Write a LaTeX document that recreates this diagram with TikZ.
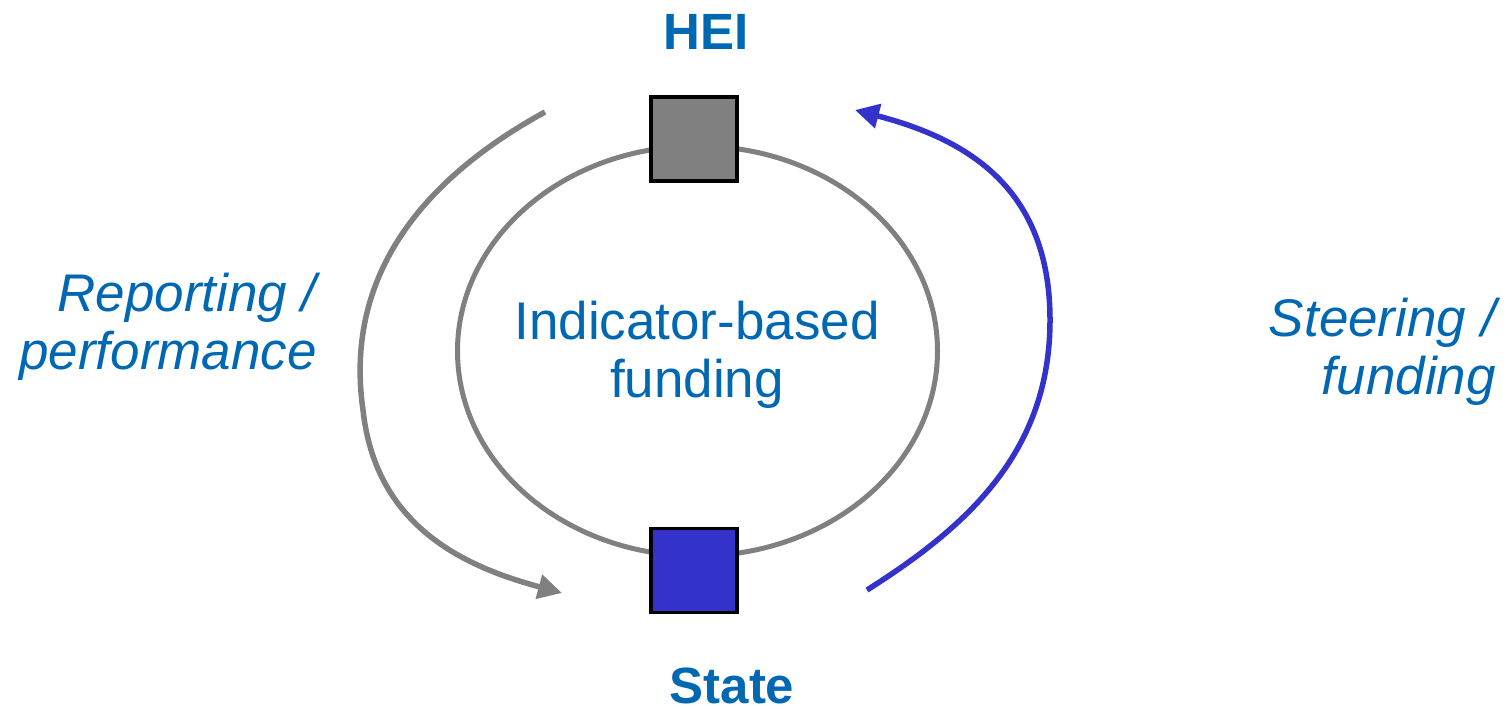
\documentclass[tikz,border=0pt]{standalone}
\usepackage{fontspec}
\setmainfont{Liberation Sans}
\usetikzlibrary{arrows.meta}
\definecolor{txtblue}{RGB}{0,104,178}
\definecolor{arrblue}{RGB}{51,51,204}
\definecolor{midgray}{RGB}{128,128,128}
\tikzset{
  lbl/.style={text=txtblue, inner sep=0pt, font=\fontsize{53}{58}\selectfont},
  ttl/.style={text=txtblue, inner sep=0pt, font=\fontsize{51}{58}\selectfont\bfseries},
  sq/.style={draw=black, line width=3.5pt, minimum width=86pt, minimum height=84pt, inner sep=0pt},
  flow/.style={line width=5.5pt, -{Triangle[length=24pt,width=24pt]}},
}
\begin{document}
\begin{tikzpicture}[x=1pt,y=-1pt]
\useasboundingbox (0,0) rectangle (1507,709);
% ring
\draw[midgray, line width=5pt] (697.5,351) ellipse [x radius=240, y radius=205];
% squares
\node[sq, fill=midgray] (hei) at (694,139) {};
\node[sq, fill=arrblue] (state) at (694,570.5) {};
% titles
\node[ttl, anchor=base] (heit) at (706,50) {HEI};
\node[ttl, anchor=base] (statet) at (732,703) {State};
% centre
\node[lbl, align=center] (ctr) at (697,355) {Indicator-based\\funding};
% side labels
\node[lbl, align=right, anchor=east, font=\fontsize{53}{58}\selectfont\itshape] (rep) at (317,327) {Reporting /\\performance};
\node[lbl, align=right, anchor=east, font=\fontsize{53}{58}\selectfont\itshape] (ste) at (1496,352) {Steering /\\funding};
% arrows
\coordinate (g0) at (545,112);
\coordinate (g1) at (363,410);
\coordinate (g2) at (562,593);
\draw[flow, midgray] (g0) .. controls (430,175) and (343,270) .. (g1)
  .. controls (376,530) and (470,568) .. (g2);
\coordinate (b0) at (867,590);
\coordinate (b1) at (1050,320);
\coordinate (b2) at (855,110);
\draw[flow, arrblue] (b0) .. controls (970,525) and (1050,450) .. (b1)
  .. controls (1050,190) and (970,140) .. (b2);
\end{tikzpicture}
\end{document}
